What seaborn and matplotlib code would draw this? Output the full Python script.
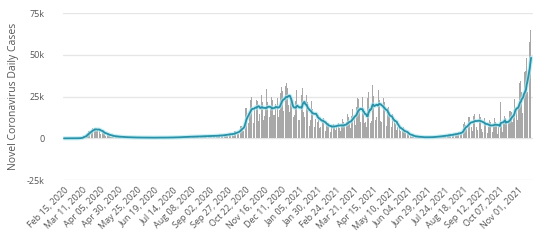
import matplotlib
matplotlib.use("Agg")
import matplotlib.pyplot as plt
import matplotlib.ticker as mticker
import seaborn as sns
import pandas as pd
import numpy as np

# Daily new cases (thousands), one row per week, starting Sat Feb 15, 2020
weeks_2020_k = [
    [0, 0, 0, 0, 0, 0, 0],
    [0, 0, 0, 0, 0.01, 0.01, 0.01],
    [0.01, 0.01, 0.02, 0.05, 0.08, 0.1, 0.1],
    [0.2, 0.15, 0.2, 0.4, 0.8, 1.0, 1.4],
    [1.6, 1.3, 1.2, 2.5, 3.4, 4.0, 4.3],
    [4.6, 3.6, 3.4, 4.8, 6.0, 6.3, 6.2],
    [6.0, 4.8, 3.7, 4.2, 5.6, 6.2, 6.8],
    [5.3, 2.8, 2.0, 3.3, 4.3, 4.5, 3.8],
    [3.0, 1.5, 1.2, 2.0, 2.7, 2.8, 2.2],
    [1.8, 1.0, 0.7, 1.3, 1.7, 1.8, 1.5],
    [1.3, 0.7, 0.5, 0.9, 1.3, 1.3, 1.3],
    [0.9, 0.6, 0.4, 0.7, 0.95, 1.0, 1.0],
    [0.7, 0.4, 0.3, 0.55, 0.8, 0.75, 0.7],
    [0.6, 0.4, 0.3, 0.5, 0.7, 0.7, 0.65],
    [0.5, 0.35, 0.25, 0.45, 0.65, 0.65, 0.6],
    [0.45, 0.3, 0.2, 0.4, 0.6, 0.6, 0.55],
    [0.4, 0.25, 0.2, 0.35, 0.55, 0.55, 0.5],
    [0.4, 0.25, 0.2, 0.4, 0.55, 0.55, 0.5],
    [0.5, 0.3, 0.25, 0.4, 0.6, 0.6, 0.5],
    [0.45, 0.3, 0.25, 0.4, 0.6, 0.6, 0.55],
    [0.5, 0.3, 0.25, 0.5, 0.65, 0.7, 0.6],
    [0.55, 0.35, 0.3, 0.55, 0.75, 0.75, 0.65],
    [0.6, 0.4, 0.35, 0.65, 0.9, 0.9, 0.8],
    [0.8, 0.5, 0.4, 0.8, 1.1, 1.1, 0.95],
    [0.95, 0.55, 0.5, 0.95, 1.3, 1.3, 1.1],
    [1.1, 0.6, 0.5, 1.0, 1.4, 1.5, 1.25],
    [1.2, 0.7, 0.6, 1.2, 1.6, 1.6, 1.4],
    [1.3, 0.8, 0.65, 1.3, 1.75, 1.75, 1.55],
    [1.4, 0.85, 0.7, 1.4, 1.9, 1.9, 1.65],
    [1.5, 0.9, 0.75, 1.5, 2.0, 2.0, 1.8],
    [1.7, 1.0, 0.85, 1.7, 2.3, 2.3, 2.0],
    [2.0, 1.2, 1.0, 2.0, 2.7, 2.7, 2.4],
    [2.4, 1.4, 1.2, 2.4, 3.2, 3.3, 2.9],
    [3.0, 1.9, 1.5, 3.0, 4.2, 4.6, 4.2],
    [4.5, 2.5, 2.5, 4.5, 6.6, 7.2, 7.3],
    [7.8, 4.8, 4.5, 9.0, 15.0, 18.0, 18.0],
    [15.0, 12.0, 9.0, 16.0, 20.5, 23.0, 24.5],
    [18.5, 12.5, 9.0, 17.0, 24.0, 24.0, 23.0],
    [22.5, 14.0, 10.5, 14.5, 18.5, 25.0, 26.0],
    [22.0, 11.5, 11.0, 13.5, 18.5, 24.0, 29.5],
    [21.5, 14.0, 12.0, 13.0, 17.5, 22.5, 24.5],
    [23.0, 14.0, 12.5, 14.0, 20.5, 23.5, 22.0],
    [24.0, 12.5, 13.5, 17.0, 27.0, 30.5, 30.0],
    [28.5, 16.5, 14.5, 20.0, 31.5, 33.0, 28.5],
    [30.0, 20.0, 16.0, 19.5, 24.0, 24.5, 17.0],
    [17.0, 13.0, 14.0, 20.0, 22.5, 29.0, 22.0],
]

weeks_2021_k = [
    [14.0, 11.0, 11.0, 20.5, 23.0, 26.0, 30.0],
    [25.0, 16.0, 12.5, 12.0, 19.5, 26.0, 22.0],
    [18.5, 13.0, 7.5, 11.0, 15.5, 22.5, 17.5],
    [18.0, 11.5, 7.0, 11.5, 15.0, 17.5, 10.0],
    [14.0, 9.5, 6.0, 6.5, 13.5, 14.5, 10.5],
    [12.0, 7.5, 4.5, 4.5, 9.5, 12.0, 8.0],
    [9.0, 6.0, 3.5, 4.0, 8.0, 10.0, 9.5],
    [8.5, 6.5, 3.5, 5.0, 8.0, 11.5, 10.5],
    [9.0, 6.0, 4.5, 4.5, 8.5, 11.5, 9.5],
    [9.5, 8.0, 5.0, 5.5, 10.0, 14.5, 11.5],
    [12.5, 10.0, 6.0, 6.5, 13.5, 17.5, 16.0],
    [17.0, 14.0, 8.0, 10.0, 18.5, 24.0, 23.5],
    [20.5, 17.0, 10.0, 9.5, 17.5, 24.5, 14.5],
    [18.0, 9.0, 9.5, 7.0, 10.5, 24.0, 28.0],
    [24.0, 17.5, 9.0, 10.5, 21.5, 32.0, 25.5],
    [19.0, 19.0, 11.0, 13.0, 21.5, 28.5, 29.0],
    [23.0, 17.5, 10.5, 9.5, 19.0, 26.5, 24.0],
    [21.5, 13.0, 7.5, 7.5, 18.0, 19.0, 18.5],
    [15.5, 9.0, 6.0, 6.5, 14.5, 12.5, 14.0],
    [11.5, 8.5, 3.5, 5.0, 6.5, 9.5, 8.0],
    [7.0, 4.5, 2.5, 2.5, 4.5, 6.5, 6.0],
    [4.5, 3.0, 1.5, 1.5, 3.0, 3.5, 2.5],
    [2.5, 1.5, 0.7, 0.9, 1.8, 1.8, 1.5],
    [1.1, 0.8, 0.5, 0.7, 1.2, 1.2, 1.1],
    [0.8, 0.5, 0.35, 0.5, 0.8, 0.8, 0.9],
    [0.75, 0.5, 0.3, 0.5, 0.8, 0.85, 0.75],
    [0.8, 0.6, 0.35, 0.6, 1.0, 1.1, 1.0],
    [1.0, 0.75, 0.5, 0.9, 1.5, 1.6, 1.5],
    [1.4, 0.9, 0.7, 1.2, 1.9, 2.1, 2.0],
    [1.8, 1.2, 0.9, 1.6, 2.5, 2.6, 2.5],
    [2.3, 1.5, 1.0, 2.0, 3.2, 3.4, 3.2],
    [2.9, 2.0, 1.2, 2.5, 4.0, 4.3, 4.2],
    [4.0, 3.0, 2.3, 5.0, 8.5, 9.5, 9.0],
    [8.0, 5.5, 4.0, 8.5, 12.5, 13.0, 12.0],
    [10.5, 6.5, 4.5, 9.5, 13.5, 14.5, 14.0],
    [10.0, 6.5, 5.0, 10.0, 14.0, 14.5, 12.5],
    [9.5, 5.5, 3.5, 8.0, 13.0, 12.0, 10.0],
    [8.5, 5.0, 3.0, 7.0, 10.5, 11.0, 9.5],
    [8.0, 5.0, 3.5, 7.5, 11.5, 12.0, 9.5],
    [8.0, 4.5, 2.8, 7.5, 10.0, 9.5, 21.5],
    [9.0, 5.5, 4.0, 9.0, 13.5, 13.0, 12.0],
    [10.5, 6.0, 4.5, 10.5, 16.5, 16.0, 16.5],
    [15.5, 10.0, 7.5, 14.0, 23.5, 27.0, 24.0],
    [19.0, 11.0, 10.0, 20.0, 33.0, 34.5, 27.0],
    [28.0, 15.0, 15.0, 32.0, 39.5, 40.5, 36.0],
    [48.0, 28.0, 32.0, 50.0, 58.0, 65.0, 57.0],
]

start_date = "2020-02-15"
tick_step_days = 25
y_ticks = [-25000, 0, 25000, 50000, 75000]
y_label = "Novel Coronavirus Daily Cases"

daily = [v * 1000 for wk in weeks_2020_k + weeks_2021_k for v in wk]
dates = pd.date_range(start_date, periods=len(daily), freq="D")
df = pd.DataFrame({"day": np.arange(len(daily)), "date": dates, "cases": daily})
df["avg7"] = df["cases"].rolling(7, min_periods=1).mean()

sns.set_theme(style="white")
plt.rcParams["font.family"] = ["Open Sans", "DejaVu Sans"]

fig = plt.figure(figsize=(5.38, 2.43), dpi=100)
ax = fig.add_axes([63 / 538, 1 - 180 / 243, 470 / 538, (180 - 13.3) / 243])

sns.barplot(data=df, x="day", y="cases", native_scale=True, color="#a8a8a8",
            width=0.8, saturation=1, ax=ax, errorbar=None, zorder=2,
            edgecolor="none", linewidth=0)
sns.lineplot(data=df, x="day", y="avg7", color="#aeeaf3", lw=3.0, alpha=0.7,
             ax=ax, zorder=3)
sns.lineplot(data=df, x="day", y="avg7", color="#2a92a8", lw=1.3, ax=ax, zorder=4)

ax.set_ylim(-25000, 75000)
ax.set_xlim(-1.4, 645.6)
ax.set_yticks(y_ticks)
ax.yaxis.set_major_formatter(mticker.FuncFormatter(
    lambda v, p: "0" if v == 0 else f"{int(v / 1000)}k"))
ax.grid(axis="y", color="#e6e6e6", lw=1, zorder=0)
ax.grid(axis="x", visible=False)
for s in ax.spines.values():
    s.set_visible(False)

xt = np.arange(0, len(daily), tick_step_days)
ax.set_xticks(xt)
ax.set_xticklabels([dates[i].strftime("%b %d, %Y") for i in xt], rotation=45,
                   ha="right", rotation_mode="anchor")
ax.tick_params(axis="x", length=0, pad=4, labelsize=6.5, colors="#555555")
ax.tick_params(axis="y", length=0, pad=13, labelsize=6.5, colors="#555555")
ax.set_xlabel("")
ax.set_ylabel(y_label, fontsize=7.5, color="#555555", labelpad=6)

fig.savefig("out.png", dpi=100, facecolor="white")
